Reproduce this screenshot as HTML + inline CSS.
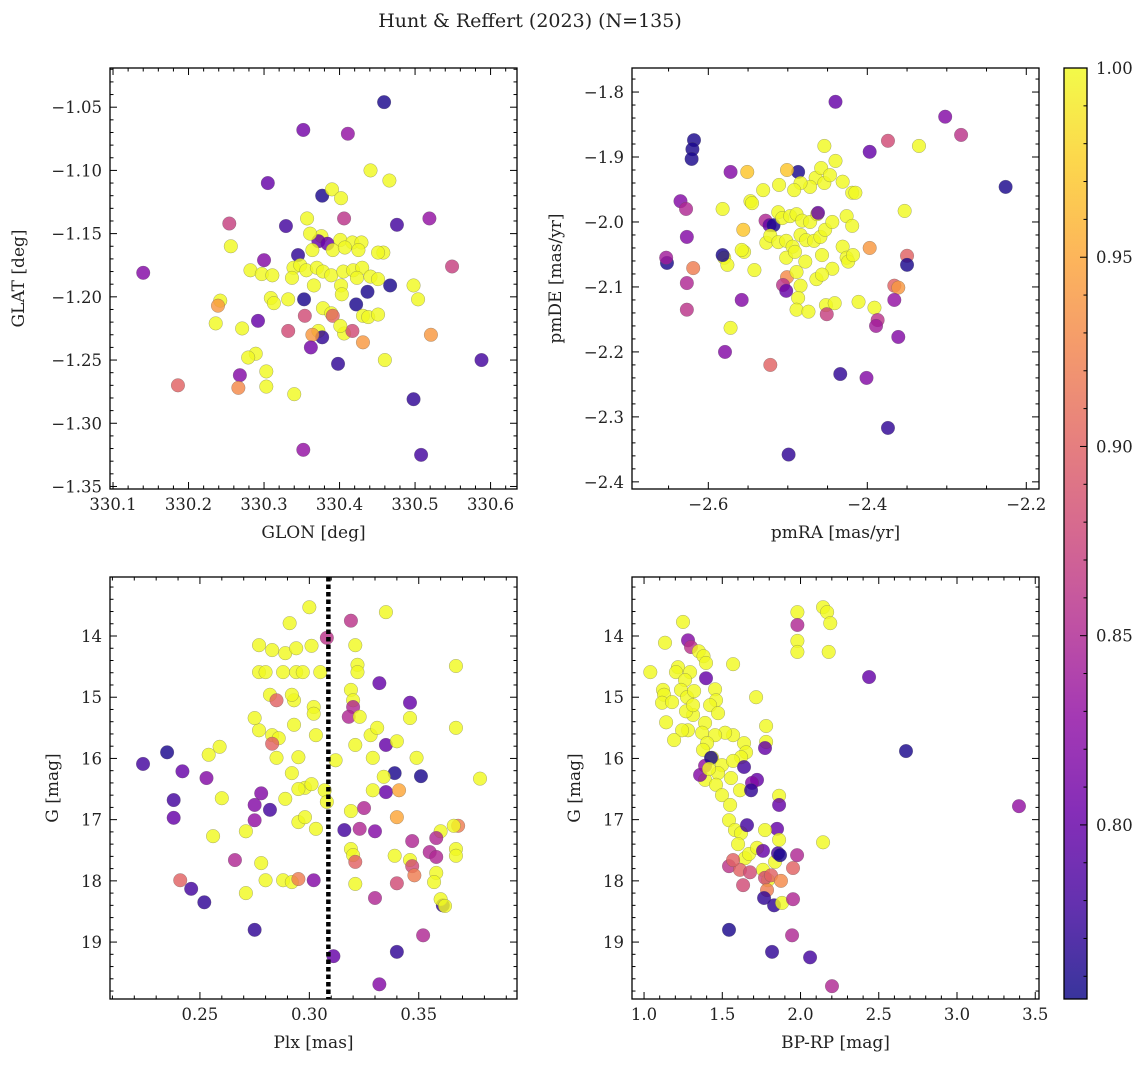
<!DOCTYPE html>
<html><head><meta charset="utf-8">
<style>
html,body{margin:0;padding:0;background:#fff;}
svg text{font-family:"DejaVu Serif","Liberation Serif",serif;fill:#222;}
</style></head>
<body>
<svg id="fig" width="1148" height="1067" viewBox="0 0 1148 1067" xmlns="http://www.w3.org/2000/svg">
<text x="530" y="27" font-size="19" text-anchor="middle">Hunt &amp; Reffert (2023) (N=135)</text>
</svg>
<script>
// ---------- Panel 1: GLON vs GLAT ----------
const glon1 = [330.459,330.352,330.411,330.305,330.441,330.466,330.377,330.390,330.402,330.254,330.329,330.357,330.406,330.476,330.519,330.256,330.300,330.345,330.140,330.376,330.372,330.384,330.401,330.417,330.429,330.361,330.364,330.391,330.407,330.425,330.458,330.451,330.282,330.297,330.311,330.339,330.348,330.356,330.370,330.378,330.389,330.405,330.418,330.430,330.441,330.451,330.423,330.337,330.242,330.239,330.309,330.313,330.332,330.353,330.366,330.402,330.403,330.422,330.437,330.467,330.498,330.504,330.354,330.378,330.389,330.391,330.431,330.438,330.451,330.292,330.236,330.271,330.332,330.372,330.377,330.364,330.362,330.406,330.417,330.401,330.431,330.521,330.460,330.398,330.289,330.279,330.303,330.268,330.266,330.186,330.303,330.340,330.352,330.498,330.508,330.588,330.549];
const glat1 = [-1.046,-1.068,-1.071,-1.110,-1.100,-1.108,-1.120,-1.115,-1.122,-1.142,-1.144,-1.138,-1.138,-1.143,-1.138,-1.160,-1.171,-1.167,-1.181,-1.152,-1.156,-1.158,-1.155,-1.157,-1.157,-1.150,-1.163,-1.163,-1.161,-1.163,-1.165,-1.165,-1.179,-1.182,-1.183,-1.177,-1.175,-1.179,-1.177,-1.180,-1.183,-1.180,-1.179,-1.177,-1.184,-1.186,-1.185,-1.185,-1.203,-1.207,-1.201,-1.205,-1.202,-1.202,-1.191,-1.191,-1.198,-1.206,-1.196,-1.191,-1.191,-1.202,-1.215,-1.209,-1.213,-1.215,-1.215,-1.216,-1.214,-1.219,-1.221,-1.225,-1.227,-1.227,-1.232,-1.230,-1.240,-1.229,-1.227,-1.223,-1.236,-1.230,-1.250,-1.253,-1.245,-1.248,-1.259,-1.262,-1.272,-1.270,-1.271,-1.277,-1.321,-1.281,-1.325,-1.250,-1.176];
const prob1 = [0.76,0.81,0.83,0.80,1,1,0.76,1,1,0.87,0.78,1,0.86,0.78,0.83,1,0.82,0.77,0.82,1,0.80,0.80,1,1,1,1,1,1,1,1,1,1,1,1,1,1,1,1,1,1,1,1,1,1,1,1,1,1,1,0.94,1,1,1,0.76,1,1,1,0.76,0.76,0.76,1,1,0.88,1,1,0.90,1,1,1,0.80,1,1,0.88,1,0.77,0.94,0.81,1,0.88,1,0.94,0.94,1,0.77,1,1,1,0.82,0.93,0.90,1,1,0.83,0.77,0.78,0.78,0.87];

// ---------- Panel 2: pmRA vs pmDE ----------
const pmra2 = [-2.440,-2.302,-2.282,-2.374,-2.335,-2.454,-2.618,-2.620,-2.621,-2.397,-2.440,-2.226,-2.487,-2.572,-2.551,-2.501,-2.465,-2.472,-2.454,-2.484,-2.492,-2.511,-2.531,-2.547,-2.545,-2.431,-2.419,-2.415,-2.458,-2.447,-2.353,-2.635,-2.628,-2.582,-2.556,-2.528,-2.523,-2.518,-2.512,-2.507,-2.497,-2.489,-2.482,-2.472,-2.463,-2.462,-2.627,-2.555,-2.527,-2.522,-2.512,-2.502,-2.494,-2.484,-2.477,-2.467,-2.459,-2.453,-2.444,-2.426,-2.419,-2.431,-2.426,-2.424,-2.418,-2.397,-2.580,-2.558,-2.576,-2.542,-2.502,-2.491,-2.457,-2.478,-2.652,-2.653,-2.619,-2.582,-2.350,-2.350,-2.501,-2.506,-2.502,-2.489,-2.484,-2.464,-2.444,-2.457,-2.366,-2.361,-2.366,-2.411,-2.391,-2.558,-2.627,-2.627,-2.487,-2.489,-2.474,-2.452,-2.441,-2.451,-2.387,-2.389,-2.572,-2.361,-2.579,-2.401,-2.434,-2.522,-2.374,-2.499];
const pmde2 = [-1.815,-1.838,-1.866,-1.875,-1.883,-1.883,-1.874,-1.888,-1.903,-1.892,-1.906,-1.946,-1.923,-1.923,-1.923,-1.920,-1.932,-1.946,-1.940,-1.940,-1.951,-1.943,-1.951,-1.968,-1.971,-1.938,-1.955,-1.955,-1.917,-1.928,-1.983,-1.968,-1.980,-1.980,-2.012,-1.998,-2.005,-2.005,-1.985,-1.994,-1.991,-1.988,-1.998,-2.000,-1.988,-1.986,-2.023,-2.046,-2.032,-2.021,-2.031,-2.029,-2.038,-2.020,-2.028,-2.029,-2.023,-2.012,-2.000,-1.991,-2.006,-2.038,-2.055,-2.061,-2.051,-2.040,-2.055,-2.043,-2.066,-2.074,-2.055,-2.046,-2.051,-2.061,-2.063,-2.055,-2.071,-2.051,-2.052,-2.066,-2.085,-2.097,-2.106,-2.077,-2.098,-2.088,-2.072,-2.081,-2.098,-2.101,-2.120,-2.123,-2.132,-2.120,-2.094,-2.135,-2.117,-2.135,-2.138,-2.128,-2.125,-2.142,-2.151,-2.160,-2.163,-2.177,-2.200,-2.240,-2.234,-2.220,-2.317,-2.358];
const prob2 = [0.80,0.82,0.86,0.88,1,1,0.76,0.76,0.76,0.80,1,0.76,0.76,0.82,0.97,0.97,1,1,1,1,1,1,1,1,1,1,1,1,1,1,1,0.82,0.85,1,0.97,0.85,0.80,0.76,1,1,1,1,1,1,1,0.80,0.82,1,1,1,1,1,1,1,1,1,1,1,1,1,1,1,1,1,1,0.94,1,1,1,1,1,1,1,1,0.76,0.84,0.92,0.76,0.90,0.76,0.93,0.86,0.80,1,1,1,1,1,0.90,0.94,0.83,1,1,0.82,0.85,0.86,1,1,1,1,1,0.87,0.86,0.84,1,0.82,0.82,0.82,0.77,0.90,0.77,0.77];

// ---------- Panel 3: Plx vs G ----------
const plx3 = [0.300,0.291,0.335,0.319,0.308,0.277,0.283,0.289,0.294,0.301,0.321,0.277,0.280,0.288,0.294,0.297,0.305,0.322,0.322,0.282,0.285,0.293,0.292,0.319,0.320,0.332,0.302,0.320,0.302,0.318,0.323,0.277,0.293,0.283,0.275,0.286,0.283,0.328,0.331,0.346,0.303,0.346,0.254,0.259,0.335,0.321,0.329,0.224,0.235,0.242,0.253,0.295,0.285,0.312,0.340,0.349,0.307,0.308,0.339,0.351,0.292,0.298,0.301,0.295,0.334,0.335,0.341,0.329,0.275,0.289,0.278,0.260,0.238,0.238,0.282,0.325,0.319,0.330,0.340,0.271,0.275,0.295,0.298,0.303,0.316,0.323,0.319,0.360,0.368,0.320,0.347,0.358,0.346,0.366,0.339,0.367,0.367,0.347,0.355,0.256,0.246,0.241,0.266,0.278,0.288,0.292,0.280,0.295,0.271,0.302,0.321,0.321,0.330,0.348,0.340,0.358,0.358,0.357,0.252,0.275,0.352,0.340,0.311,0.332,0.361,0.360,0.362,0.378,0.367,0.367];
const gmag3 = [13.53,13.79,13.61,13.75,14.03,14.15,14.23,14.28,14.20,14.16,14.15,14.59,14.59,14.59,14.59,14.59,14.59,14.47,14.59,14.96,15.05,15.05,14.96,14.88,15.05,14.77,15.16,15.16,15.27,15.32,15.32,15.54,15.45,15.62,15.34,15.67,15.76,15.62,15.50,15.09,15.62,15.34,15.94,15.81,15.78,15.78,15.99,16.09,15.90,16.21,16.32,15.98,15.99,16.03,15.72,15.99,16.52,16.71,16.24,16.29,16.24,16.48,16.42,16.50,16.30,16.55,16.52,16.52,16.76,16.66,16.57,16.65,16.68,16.97,16.84,16.81,16.86,17.19,16.96,17.19,17.01,17.04,16.96,17.15,17.17,17.15,17.48,17.19,17.10,17.58,17.35,17.30,17.66,17.10,17.59,17.48,17.59,17.76,17.53,17.27,18.13,17.99,17.66,17.71,17.99,18.02,17.99,17.97,18.20,17.99,17.69,18.05,18.28,17.91,18.04,17.61,17.87,18.02,18.35,18.80,18.89,19.16,19.23,19.69,18.40,18.30,18.41,16.33,14.49,15.50];
const prob3 = [1,1,1,0.86,0.86,1,1,1,1,1,1,1,1,1,1,1,1,1,1,1,0.90,1,1,1,1,0.80,1,0.85,1,0.85,1,1,1,1,1,1,0.90,1,1,0.80,1,1,1,1,0.80,1,1,0.78,0.76,0.80,0.82,1,1,1,1,1,1,1,0.76,0.76,1,1,1,1,1,0.80,0.95,1,0.82,1,0.82,1,0.78,0.80,0.78,0.85,1,0.82,0.95,1,0.83,1,1,1,0.78,0.85,1,1,0.92,1,0.85,0.85,1,1,1,1,1,0.88,0.85,1,0.78,0.90,0.85,1,1,1,1,0.92,1,0.82,0.90,1,0.85,0.92,0.88,0.85,1,1,0.77,0.77,0.85,0.77,0.80,0.82,0.77,1,1,1,1,1];
const plxRef = 0.3087;

// ---------- Panel 4: BP-RP vs G ----------
const bprp4 = [2.144,2.170,2.190,1.980,1.980,1.249,1.040,1.134,1.281,1.300,1.350,1.380,1.980,1.980,2.180,1.217,1.204,1.294,1.262,1.121,1.128,1.115,1.179,1.236,1.275,1.320,1.396,1.396,1.454,1.569,1.460,1.422,1.473,1.390,1.371,1.313,1.281,1.243,1.192,1.141,1.268,1.313,1.716,1.780,1.780,1.639,1.652,1.620,1.569,1.518,1.454,1.403,1.377,1.435,1.498,1.569,1.556,1.473,1.390,1.358,1.390,1.428,1.415,1.460,1.498,1.550,1.613,1.543,1.581,1.620,1.601,1.645,1.671,1.722,1.760,1.792,1.837,1.722,1.690,1.639,1.773,1.684,1.658,1.760,1.850,1.856,1.543,1.613,1.569,1.633,1.773,1.812,1.786,1.875,1.677,1.767,1.831,1.882,1.543,1.818,1.773,1.863,1.869,1.978,1.952,1.952,1.946,2.061,2.201,2.144,2.438,2.674,3.396,1.863,1.863];
const gmag4 = [13.53,13.61,13.79,13.61,13.82,13.77,14.59,14.11,14.07,14.18,14.25,14.33,14.08,14.26,14.26,14.51,14.59,14.59,14.72,14.88,14.96,15.09,15.08,14.88,15.00,14.90,14.44,14.69,14.87,14.46,15.05,15.13,15.26,15.42,15.58,15.29,15.54,15.54,15.70,15.41,15.23,15.13,15.00,15.47,15.73,15.75,15.90,15.98,15.62,15.58,15.62,15.75,15.86,15.99,16.11,16.04,16.32,16.24,16.35,16.27,16.12,15.99,16.17,16.43,16.60,16.76,16.52,17.01,17.17,17.22,17.40,17.63,17.56,17.46,17.82,17.99,17.69,16.35,16.40,16.14,15.83,16.52,17.09,17.51,17.15,17.55,17.76,17.82,17.66,18.07,17.95,17.91,18.15,18.00,17.86,18.28,18.40,18.36,18.80,19.16,17.17,17.33,17.58,17.58,17.79,18.30,18.89,19.25,19.72,17.37,14.67,15.88,16.78,16.61,16.76];
const prob4 = [1,1,1,1,0.85,1,1,1,0.82,0.86,1,1,1,1,1,1,1,1,1,1,1,1,1,1,1,1,1,0.80,1,1,1,1,1,1,1,1,1,1,1,1,1,1,1,1,1,1,1,1,1,1,1,1,1,1,1,1,1,1,1,0.82,0.83,0.76,1,1,1,1,1,1,1,1,1,1,1,1,1,1,1,0.80,0.82,0.78,0.80,0.77,0.78,0.80,0.80,0.78,0.86,0.90,0.90,0.88,0.88,0.90,0.92,0.93,0.88,0.77,0.77,1,0.76,0.77,1,1,0.76,0.85,0.90,0.85,0.85,0.78,0.85,1,0.80,0.76,0.83,1,0.80];

// ---------- Colorbar ----------
const cbTicks = [0.80,0.85,0.90,0.95,1.00];
const cbTickLabels = ["0.80","0.85","0.90","0.95","1.00"];
const cMin = 0.754, cMax = 1.0;

const NS = "http://www.w3.org/2000/svg";
const svg = document.getElementById('fig');
function mk(tag, attrs, parent){const e=document.createElementNS(NS,tag);for(const k in attrs)e.setAttribute(k,attrs[k]);(parent||svg).appendChild(e);return e;}

const plasma=[[13,8,135],[65,4,157],[106,0,168],[143,13,164],[177,42,144],[204,71,120],[225,100,98],[242,132,75],[252,166,54],[252,206,37],[240,249,33]];
function cmap(v){let t=(v-cMin)/(cMax-cMin);t=Math.max(0,Math.min(1,t));const f=t*10,i=Math.min(9,Math.floor(f)),r=f-i;const a=plasma[i],b=plasma[i+1];return `rgb(${Math.round(a[0]+(b[0]-a[0])*r)},${Math.round(a[1]+(b[1]-a[1])*r)},${Math.round(a[2]+(b[2]-a[2])*r)})`;}

function fmt(v,d){return (v<0?"\u2212":"")+Math.abs(v).toFixed(d);}

function panel(cfg){
  const {name,L,T,R,B,xmin,xmax,ymin,ymax,invertY,xs,ys,cs,xMajor,xMinor,yMajor,yMinor,xDec,yDec,xlabel,ylabel,ylabelX}=cfg;
  const g=mk('g',{});
  
  
  const sx=v=>L+(v-xmin)/(xmax-xmin)*(R-L);
  const sy=v=>invertY? T+(v-ymin)/(ymax-ymin)*(B-T) : B-(v-ymin)/(ymax-ymin)*(B-T);
  const clipId='clip-'+name;
  const cp=mk('clipPath',{id:clipId},g);mk('rect',{x:L,y:T,width:R-L,height:B-T},cp);
  const pts=mk('g',{'clip-path':`url(#${clipId})`},g);
  
  
  for(let i=0;i<xs.length;i++){
    const c=mk('circle',{cx:sx(xs[i]),cy:sy(ys[i]),r:6.8,fill:cmap(cs[i]),'fill-opacity':0.82,stroke:'#555','stroke-opacity':0.5,'stroke-width':0.5},pts);
    
    
  }
  if(cfg.vline!==undefined){
    const l=mk('line',{x1:sx(cfg.vline),x2:sx(cfg.vline),y1:T,y2:B,stroke:'#000','stroke-width':4.5,'stroke-dasharray':'4.5,3'},g);
    
    
  }
  const fr=mk('rect',{x:L,y:T,width:R-L,height:B-T,fill:'none',stroke:'#000','stroke-width':1.3},g);
  
  
  const eps=1e-9;
  let start=Math.ceil((xmin-eps)/xMinor)*xMinor;
  for(let v=start;v<=xmax+eps;v+=xMinor){
    const isMaj=Math.abs(v/xMajor-Math.round(v/xMajor))<1e-6;
    const len=isMaj?7:3.5,x=sx(v);
    mk('line',{x1:x,x2:x,y1:B,y2:B-len,stroke:'#000','stroke-width':1},g);
    mk('line',{x1:x,x2:x,y1:T,y2:T+len,stroke:'#000','stroke-width':1},g);
    if(isMaj){const t=mk('text',{x:x,y:B+21,'font-size':16.5,'text-anchor':'middle'},g);t.textContent=fmt(v,xDec);
      }
  }
  start=Math.ceil((ymin-eps)/yMinor)*yMinor;
  for(let v=start;v<=ymax+eps;v+=yMinor){
    const isMaj=Math.abs(v/yMajor-Math.round(v/yMajor))<1e-6;
    const len=isMaj?7:3.5,y=sy(v);
    mk('line',{x1:L,x2:L+len,y1:y,y2:y,stroke:'#000','stroke-width':1},g);
    mk('line',{x1:R,x2:R-len,y1:y,y2:y,stroke:'#000','stroke-width':1},g);
    if(isMaj){const t=mk('text',{x:L-8,y:y+6,'font-size':16.5,'text-anchor':'end'},g);t.textContent=fmt(v,yDec);
      }
  }
  const xl=mk('text',{x:(L+R)/2,y:B+49,'font-size':17,'text-anchor':'middle'},g);xl.textContent=xlabel;
  
  const cy=(T+B)/2;
  const yl=mk('text',{x:ylabelX,y:cy,'font-size':17,'text-anchor':'middle',transform:`rotate(-90 ${ylabelX} ${cy})`},g);yl.textContent=ylabel;
  
}

panel({name:'glon-glat-panel',L:110,T:68,R:517,B:489,xmin:330.096,xmax:330.635,ymin:-1.352,ymax:-1.019,xs:glon1,ys:glat1,cs:prob1,xMajor:0.1,xMinor:0.02,yMajor:0.05,yMinor:0.01,xDec:1,yDec:2,xlabel:'GLON [deg]',ylabel:'GLAT [deg]',ylabelX:24});
panel({name:'proper-motion-panel',L:632,T:68,R:1039,B:489,xmin:-2.696,xmax:-2.184,ymin:-2.411,ymax:-1.763,xs:pmra2,ys:pmde2,cs:prob2,xMajor:0.2,xMinor:0.05,yMajor:0.1,yMinor:0.02,xDec:1,yDec:1,xlabel:'pmRA [mas/yr]',ylabel:'pmDE [mas/yr]',ylabelX:561});
panel({name:'parallax-mag-panel',L:110,T:577,R:517,B:999,xmin:0.2089,xmax:0.3949,ymin:13.036,ymax:19.93,invertY:true,xs:plx3,ys:gmag3,cs:prob3,xMajor:0.05,xMinor:0.01,yMajor:1,yMinor:0.2,xDec:2,yDec:0,xlabel:'Plx [mas]',ylabel:'G [mag]',ylabelX:58,vline:plxRef});
panel({name:'cmd-panel',L:632,T:577,R:1039,B:999,xmin:0.923,xmax:3.524,ymin:13.036,ymax:19.93,invertY:true,xs:bprp4,ys:gmag4,cs:prob4,xMajor:0.5,xMinor:0.1,yMajor:1,yMinor:0.2,xDec:1,yDec:0,xlabel:'BP-RP [mag]',ylabel:'G [mag]',ylabelX:580});

(function(){
  const L=1064,R=1087,T=68,B=999;
  const g=mk('g',{});
  
  
  const defs=mk('defs',{},g);
  const lg=mk('linearGradient',{id:'cbgrad',x1:0,y1:1,x2:0,y2:0},defs);
  for(let i=0;i<=20;i++){const v=cMin+(cMax-cMin)*i/20;mk('stop',{offset:i/20,'stop-color':cmap(v),'stop-opacity':0.82},lg);}
  mk('rect',{x:L,y:T,width:R-L,height:B-T,fill:'url(#cbgrad)'},g);
  mk('rect',{x:L,y:T,width:R-L,height:B-T,fill:'none',stroke:'#000','stroke-width':1.3},g);
  const sy=v=>B-(v-cMin)/(cMax-cMin)*(B-T);
  for(let v=0.76;v<=1.0001;v+=0.01){
    const isMaj=Math.abs(v*20-Math.round(v*20))<1e-6;
    const y=sy(v);
    mk('line',{x1:R,x2:R-(isMaj?7:3.5),y1:y,y2:y,stroke:'#000','stroke-width':1},g);
  }
  for(let i=0;i<cbTicks.length;i++){
    const t=mk('text',{x:R+9,y:sy(cbTicks[i])+6,'font-size':16.5},g);
    t.textContent=cbTickLabels[i];
    
    
  }
})();
</script>
</body></html>
